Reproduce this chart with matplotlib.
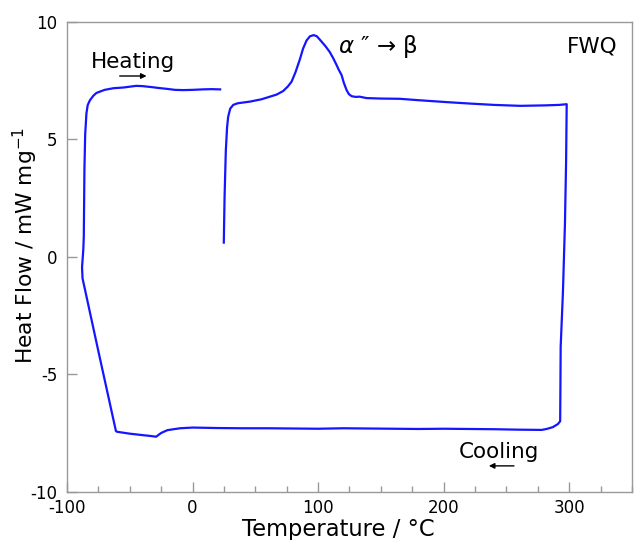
import matplotlib
matplotlib.use("Agg")
import matplotlib.pyplot as plt
from matplotlib.ticker import MultipleLocator

plt.rcParams["font.family"] = ["DejaVu Sans"]
plt.rcParams["axes.unicode_minus"] = False

# DSC trace: heat from 25 °C to 300 °C, cool to about -88 °C, then reheat
heat1_T = [24.9, 25.5, 26.5, 27.5, 28.4, 30, 32.4, 36, 45.7, 55, 61.6, 67, 72.2, 76,
           78.9, 82, 85.5, 88, 90.8, 93.5, 96.5, 99, 102, 106, 109.4, 112, 114.7,
           116.5, 118.7, 120.5, 122.7, 124.5, 126.7, 130, 133, 138.6, 150, 165, 180,
           202, 220, 240, 261, 281, 292, 298]
heat1_Q = [0.6, 2.5, 4.5, 5.5, 5.96, 6.3, 6.46, 6.53, 6.6, 6.7, 6.81, 6.9, 7.05, 7.25,
           7.45, 7.85, 8.4, 8.85, 9.2, 9.38, 9.43, 9.38, 9.2, 8.95, 8.7, 8.45, 8.16,
           7.95, 7.73, 7.4, 7.09, 6.92, 6.83, 6.8, 6.81, 6.75, 6.73, 6.72, 6.66,
           6.58, 6.52, 6.46, 6.42, 6.44, 6.46, 6.49]

cool_T = [298, 297.5, 296.6, 295, 293.2, 293, 292.8, 291, 287, 282, 278, 260, 240, 220,
          200, 180, 160, 140, 120, 100, 80, 60, 40, 20, 0, -10, -20, -25, -29, -33,
          -40, -50, -60, -61, -75.2, -87.6]
cool_Q = [6.49, 4.0, 1.4, -1.5, -3.83, -5.5, -7.0, -7.12, -7.25, -7.33, -7.37, -7.36,
          -7.34, -7.33, -7.32, -7.33, -7.32, -7.31, -7.3, -7.32, -7.31, -7.3, -7.3,
          -7.29, -7.27, -7.3, -7.38, -7.5, -7.66, -7.63, -7.59, -7.53, -7.45, -7.42,
          -3.97, -0.92]

heat2_T = [-88, -87, -86.6, -86.1, -85.5, -84.5, -83.5, -81.8, -79, -76.5, -70, -63,
           -55, -45, -40, -33, -27, -20, -14, -7.5, 0, 8, 15, 22]
heat2_Q = [-0.45, 0.3, 0.85, 3.7, 5.2, 6.1, 6.45, 6.65, 6.85, 6.97, 7.1, 7.17, 7.2,
           7.27, 7.26, 7.22, 7.18, 7.14, 7.1, 7.09, 7.1, 7.12, 7.13, 7.12]

T = heat1_T + cool_T + heat2_T
Q = heat1_Q + cool_Q + heat2_Q

fig = plt.figure(figsize=(6.36, 5.40), dpi=100)
ax = fig.add_axes([0.1053, 0.0894, 0.8884, 0.8704])

ax.plot(T, Q, color="#1515ff", lw=1.6, solid_joinstyle="round")

ax.set_xlim(-100, 350)
ax.set_ylim(-10, 10)
ax.xaxis.set_major_locator(MultipleLocator(100))
ax.xaxis.set_minor_locator(MultipleLocator(25))
ax.yaxis.set_major_locator(MultipleLocator(5))

spine_col = "#999999"
for s in ax.spines.values():
    s.set_color(spine_col)
    s.set_linewidth(1.0)
ax.tick_params(axis="both", which="both", direction="in", color=spine_col,
               labelsize=12, top=False, right=False)
ax.tick_params(axis="both", which="major", length=7, width=1.0)
ax.tick_params(axis="x", which="major", pad=5)
ax.tick_params(axis="y", which="major", pad=7)
ax.tick_params(axis="x", which="minor", length=4, width=1.0)

ax.set_xlabel("Temperature / °C", fontsize=16.3)
ax.xaxis.set_label_coords(0.481, -0.055)
ax.set_ylabel("Heat Flow / mW mg$^{-1}$", fontsize=15.7)
ax.yaxis.set_label_coords(-0.048, 0.525)

ax.text(-47.5, 8.3, "Heating", fontsize=15.5, ha="center", va="center")
ax.annotate("", xy=(-36.6, 7.69), xytext=(-58, 7.69),
            arrowprops=dict(arrowstyle="-|>", color="black", lw=1.0,
                            mutation_scale=8, shrinkA=0, shrinkB=0))
ax.text(244, -8.3, "Cooling", fontsize=15.5, ha="center", va="center")
ax.annotate("", xy=(236, -8.9), xytext=(256, -8.9),
            arrowprops=dict(arrowstyle="-|>", color="black", lw=1.0,
                            mutation_scale=8, shrinkA=0, shrinkB=0))
ax.text(116, 8.94, "$\\alpha$ ″ → β", fontsize=16.5, ha="left", va="center")
ax.text(318.6, 8.94, "FWQ", fontsize=15.5, ha="center", va="center")

fig.savefig("out.png", dpi=100)
